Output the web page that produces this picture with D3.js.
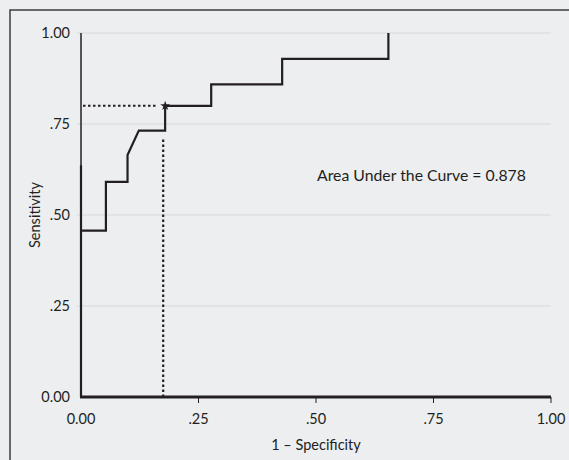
<!DOCTYPE html>
<html><head><meta charset="utf-8">
<script src="https://cdn.jsdelivr.net/npm/d3@7"></script>
<style>
html,body{margin:0;padding:0;background:#eceef0;}
svg{display:block;font-family:Lato,"Open Sans",sans-serif;}
</style></head>
<body><svg id="c" width="569" height="460"></svg>
<script>
// ROC curve points (1 - specificity, sensitivity)
const fpr  = [0, 0, 0, 0.053, 0.053, 0.099, 0.099, 0.123, 0.179, 0.179, 0.277, 0.277, 0.428, 0.428, 0.654, 0.654];
const sens = [0, 0.637, 0.457, 0.457, 0.591, 0.591, 0.665, 0.732, 0.732, 0.800, 0.800, 0.859, 0.859, 0.929, 0.929, 1.0];
// optimal cut-off point
const cutX = [0.177];
const cutY = [0.800];
const xTicks = [0, 0.25, 0.5, 0.75, 1];
const yTicks = [0, 0.25, 0.5, 0.75, 1];
const xTickLabels = ["0.00", ".25", ".50", ".75", "1.00"];
const yTickLabels = ["0.00", ".25", ".50", ".75", "1.00"];
const aucLabel = "Area Under the Curve = 0.878";

const svg = d3.select("#c");
const ink = "#231f20";
svg.append("rect").attr("x", 10).attr("y", 10).attr("width", 600).attr("height", 500)
  .attr("fill", "#eceef0").attr("stroke", "#3d3b3c").attr("stroke-width", 1.5);

const x = d3.scaleLinear().domain([0, 1]).range([81, 551]);
const y = d3.scaleLinear().domain([0, 1]).range([397, 33]);

// gridlines
svg.append("g").selectAll("line").data(yTicks.filter(d => d > 0)).join("line")
  .attr("x1", 77).attr("x2", 551).attr("y1", d => y(d)).attr("y2", d => y(d))
  .attr("stroke", "#d6d8db").attr("stroke-width", 1);

// y tick labels
svg.append("g").selectAll("text").data(yTicks).join("text")
  .attr("x", 70).attr("y", d => y(d)).attr("dy", "0.35em").attr("text-anchor", "end")
  .attr("font-size", 14.5).attr("fill", ink).text((d, i) => yTickLabels[i]);

// x axis ticks
svg.append("g").selectAll("line").data(xTicks.filter(d => d > 0)).join("line")
  .attr("x1", d => x(d)).attr("x2", d => x(d)).attr("y1", 397).attr("y2", 403)
  .attr("stroke", ink).attr("stroke-width", 1);
svg.append("g").selectAll("text").data(xTicks).join("text")
  .attr("x", d => x(d)).attr("y", 418.5).attr("dy", "0.35em").attr("text-anchor", "middle")
  .attr("font-size", 14.5).attr("fill", ink).text((d, i) => xTickLabels[i]);

// axes lines
svg.append("line").attr("x1", x(0)).attr("x2", x(0)).attr("y1", y(1)).attr("y2", y(0))
  .attr("stroke", ink).attr("stroke-width", 1.5);
svg.append("line").attr("x1", x(0) - 1).attr("x2", x(1)).attr("y1", y(0)).attr("y2", y(0))
  .attr("stroke", ink).attr("stroke-width", 3);

// reference dotted lines to cut-off
svg.append("line").attr("x1", x(0) + 2).attr("x2", x(cutX[0]) - 8).attr("y1", y(cutY[0])).attr("y2", y(cutY[0]))
  .attr("stroke", ink).attr("stroke-width", 2).attr("stroke-dasharray", "2.5,2.5");
svg.append("line").attr("x1", x(cutX[0]) - 1).attr("x2", x(cutX[0]) - 1).attr("y1", y(0)).attr("y2", y(0.708))
  .attr("stroke", ink).attr("stroke-width", 2.2).attr("stroke-dasharray", "2.5,2.5");

// ROC curve
const pts = fpr.map((f, i) => [f, sens[i]]);
svg.append("path").datum(pts)
  .attr("d", d3.line().x(d => x(d[0])).y(d => y(d[1])))
  .attr("fill", "none").attr("stroke", ink).attr("stroke-width", 2.2).attr("stroke-linejoin", "miter");

// star marker
svg.append("path").attr("d", d3.symbol(d3.symbolStar, 30)())
  .attr("transform", `translate(${x(cutX[0]) + 1},${y(cutY[0])})`).attr("fill", ink);

// labels
svg.append("text").attr("x", 317).attr("y", 175).attr("dy", "0.35em")
  .attr("font-size", 15.8).attr("fill", ink).text(aucLabel);
svg.append("text").attr("x", (x(0) + x(1)) / 2).attr("y", 445).attr("dy", "0.35em")
  .attr("text-anchor", "middle").attr("font-size", 14.5).attr("fill", ink).text("1 – Specificity");
svg.append("text").attr("transform", `translate(35,${(y(0) + y(1)) / 2}) rotate(-90)`)
  .attr("dy", "0.35em").attr("text-anchor", "middle").attr("font-size", 14.5).attr("fill", ink).text("Sensitivity");
</script></body></html>
